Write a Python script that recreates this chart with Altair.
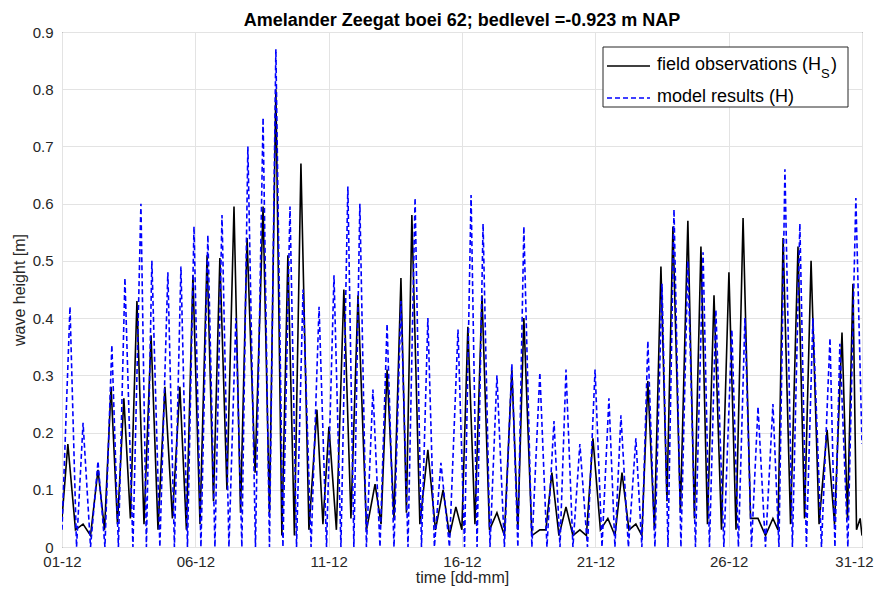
import json
import altair as alt
import pandas as pd

# ---------------- data ----------------
x_tick_days = [0, 5, 10, 15, 20, 25, 30]
x_tick_labels = ["01-12", "06-12", "11-12", "16-12", "21-12", "26-12", "31-12"]
y_ticks = [0, 0.1, 0.2, 0.3, 0.4, 0.5, 0.6, 0.7, 0.8, 0.9]

# field observations (Hs): tidal peaks (days after 01-12 00:00) and heights [m]
obs_peak_day = [0.22, 0.79, 1.35, 1.84, 2.32, 2.81, 3.34, 3.86, 4.42, 4.91,
                5.44, 5.92, 6.45, 6.94, 7.54, 8.02, 8.47, 8.96, 9.56, 10.01,
                10.57, 11.10, 11.74, 12.19, 12.71, 13.12, 13.72, 14.29, 14.77, 15.22,
                15.75, 16.31, 16.87, 17.32, 17.92, 18.37, 18.90, 19.42, 19.91, 20.47,
                21.00, 21.52, 21.97, 22.46, 22.91, 23.47, 23.96, 24.45, 25.01, 25.54,
                26.10, 26.66, 27.04, 27.60, 28.09, 28.69, 29.25, 29.66, 29.93]
obs_peak_val = [0.18, 0.04, 0.135, 0.28, 0.26, 0.43, 0.37, 0.28, 0.28, 0.475,
                0.51, 0.505, 0.595, 0.54, 0.595, 0.80, 0.51, 0.67, 0.24, 0.21,
                0.45, 0.44, 0.11, 0.31, 0.47, 0.58, 0.17, 0.10, 0.07, 0.385,
                0.44, 0.06, 0.31, 0.40, 0.03, 0.13, 0.07, 0.03, 0.19, 0.05,
                0.13, 0.04, 0.29, 0.49, 0.56, 0.57, 0.525, 0.44, 0.48, 0.575,
                0.05, 0.05, 0.54, 0.525, 0.50, 0.205, 0.375, 0.46, 0.05]
# low-water values: start, between consecutive peaks, end
obs_trough_val = [0.05,
                  0.03, 0.02, 0.03, 0.04, 0.05, 0.04, 0.03, 0.05, 0.03, 0.04,
                  0.08, 0.10, 0.06, 0.13, 0.06, 0.02, 0.02, 0.03, 0.04, 0.03,
                  0.05, 0.03, 0.04, 0.05, 0.06, 0.04, 0.03, 0.02, 0.03, 0.04,
                  0.03, 0.02, 0.03, 0.02, 0.03, 0.02, 0.02, 0.02, 0.03, 0.02,
                  0.03, 0.02, 0.03, 0.08, 0.06, 0.05, 0.04, 0.03, 0.03, 0.05,
                  0.02, 0.03, 0.04, 0.05, 0.04, 0.04, 0.05, 0.03, 0.02]

# model results (H)
mod_peak_day = [0.30, 0.79, 1.35, 1.87, 2.36, 2.96, 3.37, 3.97, 4.46, 4.95,
                5.47, 6.00, 6.52, 6.97, 7.54, 8.02, 8.55, 9.04, 9.64, 10.20,
                10.72, 11.17, 11.66, 12.19, 12.71, 13.24, 13.72, 14.21, 14.85, 15.34,
                15.79, 16.31, 16.87, 17.32, 17.92, 18.45, 18.90, 19.42, 19.99, 20.51,
                20.96, 21.52, 21.97, 22.50, 22.95, 23.47, 24.04, 24.52, 25.12, 25.61,
                26.10, 26.66, 27.11, 27.67, 28.16, 28.80, 29.17, 29.77]
mod_peak_val = [0.42, 0.217, 0.15, 0.353, 0.47, 0.60, 0.50, 0.48, 0.49, 0.56,
                0.545, 0.58, 0.40, 0.70, 0.75, 0.87, 0.595, 0.45, 0.42, 0.475,
                0.63, 0.60, 0.275, 0.39, 0.43, 0.61, 0.40, 0.147, 0.38, 0.615,
                0.565, 0.30, 0.32, 0.56, 0.305, 0.22, 0.31, 0.18, 0.31, 0.26,
                0.23, 0.19, 0.36, 0.46, 0.59, 0.50, 0.515, 0.415, 0.38, 0.40,
                0.245, 0.25, 0.66, 0.565, 0.40, 0.365, 0.355, 0.61]
mod_trough_val = [0.03,
                  0.0, 0.0, 0.0, 0.0, 0.0, 0.0, 0.0, 0.0, 0.0, 0.0,
                  0.0, 0.0, 0.0, 0.0, 0.0, 0.0, 0.0, 0.0, 0.0, 0.0,
                  0.0, 0.0, 0.0, 0.0, 0.0, 0.0, 0.0, 0.0, 0.0, 0.0,
                  0.0, 0.0, 0.0, 0.0, 0.0, 0.0, 0.0, 0.0, 0.0, 0.0,
                  0.0, 0.0, 0.0, 0.0, 0.0, 0.0, 0.0, 0.0, 0.0, 0.0,
                  0.0, 0.0, 0.0, 0.0, 0.0, 0.0, 0.0, 0.18]


def build(peak_day, peak_val, trough_val):
    rows = []
    n = len(peak_day)
    for i in range(n + 1):
        if i == 0:
            t = 0.0
        elif i == n:
            t = 30.0
        else:
            t = (peak_day[i - 1] + peak_day[i]) / 2
        rows.append({"day": t, "h": trough_val[i]})
        if i < n:
            rows.append({"day": peak_day[i], "h": peak_val[i]})
    return pd.DataFrame(rows)


obs_df = build(obs_peak_day, obs_peak_val, obs_trough_val)
mod_df = build(mod_peak_day, mod_peak_val, mod_trough_val)

FONT = "Liberation Sans"
label_expr = json.dumps(x_tick_labels) + "[round(datum.value/5)]"

x_enc = alt.X("day:Q",
              scale=alt.Scale(domain=[0, 30], nice=False, zero=False),
              axis=alt.Axis(values=x_tick_days, labelExpr=label_expr,
                            title="time [dd-mm]", labelFlush=False,
                            labelOffset={"condition": {"test": "datum.value >= 30",
                                                       "value": -8},
                                         "value": 0},
                            labelPadding=7, titleBaseline="alphabetic",
                            titleY=35))
y_enc = alt.Y("h:Q",
              scale=alt.Scale(domain=[0, 0.9], nice=False),
              axis=alt.Axis(values=y_ticks, format="~g",
                            title="wave height [m]", labelPadding=9,
                            titlePadding=5))

obs_line = alt.Chart(obs_df).mark_line(
    color="#000000", strokeWidth=1.6, clip=True
).encode(x=x_enc, y=y_enc)

mod_line = alt.Chart(mod_df).mark_line(
    color="#0000ff", strokeWidth=1.6, strokeDash=[5, 3], clip=True
).encode(x="day:Q", y="h:Q")

one = pd.DataFrame({"a": [0]})
legend_box = alt.Chart(one).mark_rect(
    fill="white", stroke="#262626", strokeWidth=1
).encode(x=alt.value(541), x2=alt.value(786), y=alt.value(15), y2=alt.value(75))

leg_obs = alt.Chart(one).mark_rule(color="#000000", strokeWidth=1.6).encode(
    x=alt.value(545), x2=alt.value(588), y=alt.value(34))
leg_mod = alt.Chart(one).mark_rule(color="#0000ff", strokeWidth=1.6,
                                   strokeDash=[5, 3]).encode(
    x=alt.value(545), x2=alt.value(588), y=alt.value(66))


def txt(s, x, y, size):
    return alt.Chart(one).mark_text(
        text=s, align="left", baseline="alphabetic", font=FONT,
        fontSize=size, color="#000000"
    ).encode(x=alt.value(x), y=alt.value(y))


legend_texts = [
    txt("field observations (H", 595, 38, 18),
    txt("S", 759, 46, 13),
    txt(")", 769, 38, 18),
    txt("model results (H)", 595, 70, 18),
]

chart = alt.layer(
    obs_line, mod_line, legend_box, leg_obs, leg_mod, *legend_texts
).properties(
    width=800, height=515,
    autosize=alt.AutoSizeParams(type="none"),
    padding={"left": 54, "top": 24, "right": 12, "bottom": 39},
    title=alt.TitleParams("Amelander Zeegat boei 62; bedlevel =-0.923 m NAP",
                          font=FONT, fontSize=18, fontWeight="bold",
                          color="#000000", anchor="middle", offset=-5),
).configure_axis(
    labelFont=FONT, labelFontSize=15, labelColor="#262626",
    titleFont=FONT, titleFontSize=16, titleFontWeight="normal",
    titleColor="#262626", gridColor="#e3e3e3", gridWidth=1,
    domain=False, ticks=False, grid=True,
).configure_view(
    stroke="#262626", strokeWidth=1
)

chart.save("out.html", embed_options={"renderer": "svg", "actions": False})
